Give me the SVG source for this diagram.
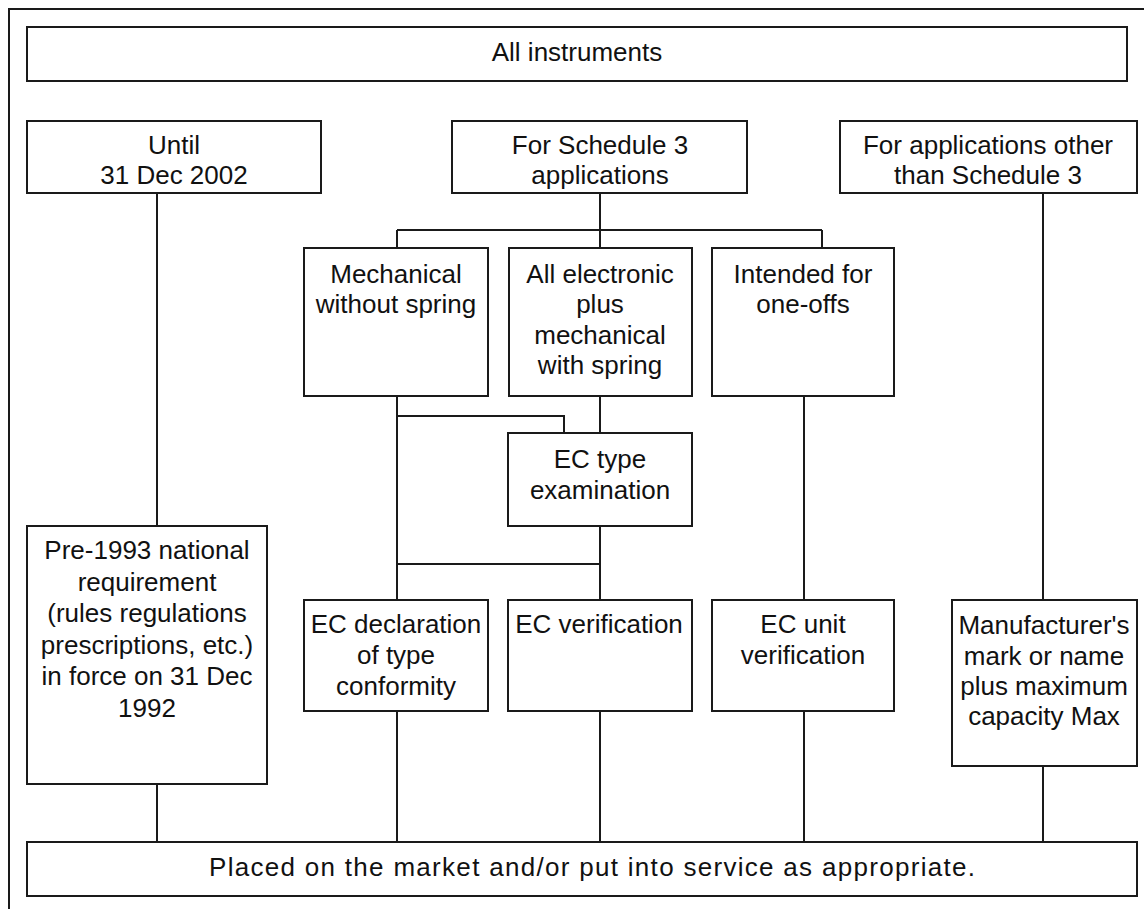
<svg xmlns="http://www.w3.org/2000/svg" width="1144" height="909" viewBox="0 0 1144 909">
<style>
.box{fill:#fff;stroke:#1a1a1a;stroke-width:2}
.ln{fill:none;stroke:#1a1a1a;stroke-width:2}
text{font-family:"Liberation Sans",Arial,sans-serif;font-size:26px;fill:#111;text-anchor:middle}
</style>
<rect x="0" y="0" width="1144" height="909" fill="#fff"/>
<path class="ln" d="M9,909 V9 H1144"/>
<g id="connectors">
<path class="ln" d="M157,193 V526"/>
<path class="ln" d="M157,784 V842"/>
<path class="ln" d="M600,193 V230 M397,230 H822 M397,230 V248 M600,230 V248 M822,230 V248"/>
<path class="ln" d="M397,396 V600 M397,416 H564 V433"/>
<path class="ln" d="M600,396 V433 M600,526 V600 M397,564 H600"/>
<path class="ln" d="M804,396 V600"/>
<path class="ln" d="M1043,193 V600"/>
<path class="ln" d="M397,711 V842 M600,711 V842 M804,711 V842 M1043,766 V842"/>
</g>
<g id="all-instruments"><rect class="box" x="27" y="27" width="1100" height="54"/><text x="577" y="61">All instruments</text></g>
<g id="until"><rect class="box" x="27" y="121" width="294" height="72"/><text x="174" y="154">Until</text><text x="174" y="184">31 Dec 2002</text></g>
<g id="schedule3"><rect class="box" x="452" y="121" width="295" height="72"/><text x="600" y="154">For Schedule 3</text><text x="600" y="184">applications</text></g>
<g id="other"><rect class="box" x="840" y="121" width="297" height="72"/><text x="988" y="154">For applications other</text><text x="988" y="184">than Schedule 3</text></g>
<g id="mechanical"><rect class="box" x="304" y="248" width="184" height="148"/><text x="396" y="283">Mechanical</text><text x="396" y="313">without spring</text></g>
<g id="electronic"><rect class="box" x="509" y="248" width="183" height="148"/><text x="600" y="283">All electronic</text><text x="600" y="313">plus</text><text x="600" y="344">mechanical</text><text x="600" y="374">with spring</text></g>
<g id="oneoffs"><rect class="box" x="712" y="248" width="182" height="148"/><text x="803" y="283">Intended for</text><text x="803" y="313">one-offs</text></g>
<g id="ec-type"><rect class="box" x="508" y="433" width="184" height="93"/><text x="600" y="468">EC type</text><text x="600" y="499">examination</text></g>
<g id="pre1993"><rect class="box" x="27" y="526" width="240" height="258"/><text x="147" y="559">Pre-1993 national</text><text x="147" y="590.5">requirement</text><text x="147" y="622">(rules regulations</text><text x="147" y="653.5">prescriptions, etc.)</text><text x="147" y="685">in force on 31 Dec</text><text x="147" y="716.5">1992</text></g>
<g id="ec-declaration"><rect class="box" x="304" y="600" width="184" height="111"/><text x="396" y="633">EC declaration</text><text x="396" y="664">of type</text><text x="396" y="695">conformity</text></g>
<g id="ec-verification"><rect class="box" x="508" y="600" width="184" height="111"/><text x="599" y="633">EC verification</text></g>
<g id="ec-unit"><rect class="box" x="712" y="600" width="182" height="111"/><text x="803" y="633">EC unit</text><text x="803" y="664">verification</text></g>
<g id="manufacturer"><rect class="box" x="952" y="600" width="185" height="166"/><text x="1044" y="634">Manufacturer's</text><text x="1044" y="665">mark or name</text><text x="1044" y="695">plus maximum</text><text x="1044" y="725">capacity Max</text></g>
<g id="placed"><rect class="box" x="27" y="842" width="1110" height="54"/><text x="209" y="876" style="text-anchor:start" textLength="766" lengthAdjust="spacing">Placed on the market and/or put into service as appropriate.</text></g>
</svg>
